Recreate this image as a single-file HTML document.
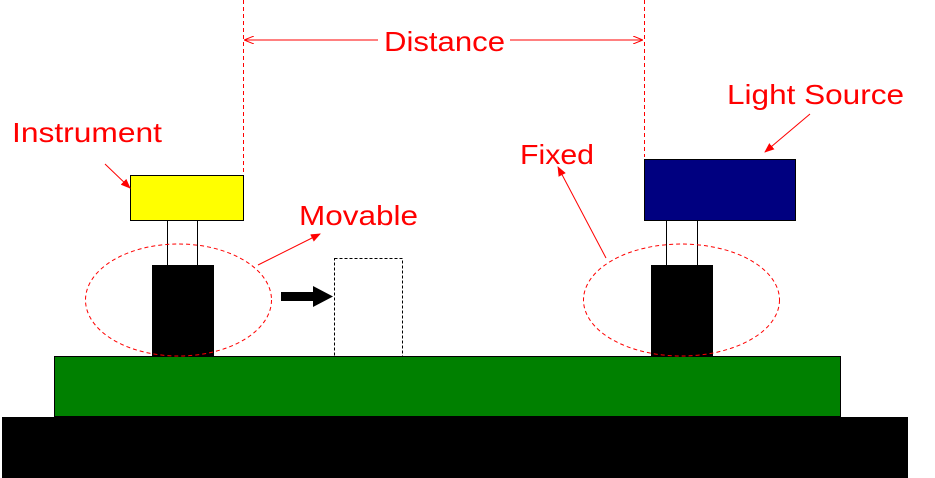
<!DOCTYPE html>
<html><head><style>body{margin:0;background:#fff}svg{display:block}</style></head><body>
<svg width="935" height="478" xmlns="http://www.w3.org/2000/svg" font-family="Liberation Sans, sans-serif">
<defs><marker id="a" markerWidth="10" markerHeight="8" refX="9" refY="4" orient="auto" markerUnits="userSpaceOnUse"><path d="M0,0 L10,4 L0,8 Z" fill="red"/></marker>
<marker id="d" markerWidth="10" markerHeight="8" refX="9" refY="4" orient="auto-start-reverse" markerUnits="userSpaceOnUse"><path d="M0,0 L10,4 L0,8" fill="none" stroke="red"/></marker></defs>
<rect x="2" y="417" width="906" height="61" fill="#000"/>
<rect x="54.5" y="356.5" width="786" height="60" fill="#008000" stroke="#000"/>
<line x1="243.5" y1="0" x2="243.5" y2="172" stroke="red" stroke-dasharray="4,3"/>
<line x1="644.5" y1="0" x2="644.5" y2="157" stroke="red" stroke-dasharray="4,3"/>
<line x1="245" y1="40" x2="378" y2="40" stroke="red" marker-start="url(#d)"/>
<line x1="510" y1="40" x2="642" y2="40" stroke="red" marker-end="url(#d)"/>
<text x="384" y="51" font-size="28" fill="red" textLength="121" lengthAdjust="spacingAndGlyphs">Distance</text>
<rect x="130.5" y="175.5" width="113" height="45" fill="#ff0" stroke="#000"/>
<line x1="167.5" y1="220" x2="167.5" y2="265" stroke="#000"/>
<line x1="197.5" y1="220" x2="197.5" y2="265" stroke="#000"/>
<rect x="152" y="265" width="62" height="91" fill="#000"/>
<ellipse cx="178.5" cy="300" rx="93" ry="56" fill="none" stroke="red" stroke-dasharray="4,3"/>
<rect x="334.5" y="258.5" width="68" height="98" fill="none" stroke="#000" stroke-dasharray="3,2"/>
<rect x="281" y="292" width="34" height="9" fill="#000"/><path d="M313,286 L333,296.5 L313,307 Z" fill="#000"/>
<rect x="644.5" y="159.5" width="151" height="61" fill="#000080" stroke="#000"/>
<line x1="666.5" y1="220" x2="666.5" y2="265" stroke="#000"/>
<line x1="697.5" y1="220" x2="697.5" y2="265" stroke="#000"/>
<rect x="651" y="265" width="62" height="91" fill="#000"/>
<ellipse cx="681.5" cy="300" rx="98" ry="56" fill="none" stroke="red" stroke-dasharray="4,3"/>
<text x="12" y="142" font-size="28" fill="red" textLength="150" lengthAdjust="spacingAndGlyphs">Instrument</text>
<line x1="105" y1="164" x2="130" y2="188" stroke="red" marker-end="url(#a)"/>
<text x="299" y="225" font-size="28" fill="red" textLength="119" lengthAdjust="spacingAndGlyphs">Movable</text>
<line x1="258" y1="265" x2="320" y2="234" stroke="red" marker-end="url(#a)"/>
<text x="520" y="164" font-size="28" fill="red" textLength="74" lengthAdjust="spacingAndGlyphs">Fixed</text>
<line x1="606" y1="258" x2="558" y2="167" stroke="red" marker-end="url(#a)"/>
<text x="727" y="104" font-size="28" fill="red" textLength="177" lengthAdjust="spacingAndGlyphs">Light Source</text>
<line x1="810" y1="114" x2="765" y2="152" stroke="red" marker-end="url(#a)"/>
</svg>
</body></html>
